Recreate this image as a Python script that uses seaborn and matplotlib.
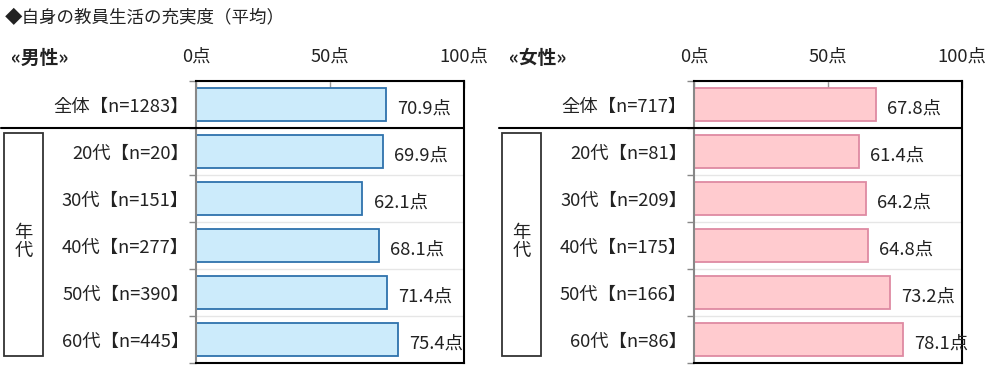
import matplotlib
matplotlib.use("Agg")
import matplotlib.pyplot as plt
import matplotlib.transforms as mtransforms
import seaborn as sns
import pandas as pd
import numpy as np
from matplotlib.patches import Rectangle

sns.set_theme(style="white")
plt.rcParams['font.family'] = ['Noto Sans CJK JP', 'DejaVu Sans']

title = "◆自身の教員生活の充実度（平均）"
x_ticks = [0, 50, 100]
x_tick_labels = ["0点", "50点", "100点"]

male_header = "«男性»"
male_labels = ["全体【n=1283】", "20代【n=20】", "30代【n=151】", "40代【n=277】", "50代【n=390】", "60代【n=445】"]
male_values = [70.9, 69.9, 62.1, 68.1, 71.4, 75.4]

female_header = "«女性»"
female_labels = ["全体【n=717】", "20代【n=81】", "30代【n=209】", "40代【n=175】", "50代【n=166】", "60代【n=86】"]
female_values = [67.8, 61.4, 64.2, 64.8, 73.2, 78.1]

group_label = "年\n代"

W, H = 1000, 374
fig = plt.figure(figsize=(W / 100, H / 100), dpi=100)
FS = 13.2


def px_axes(x0, y0, x1, y1):
    return fig.add_axes([x0 / W, 1 - y1 / H, (x1 - x0) / W, (y1 - y0) / H])


def draw_panel(offset, header, labels, values, fill, edge):
    ax = px_axes(196 + offset, 81, 464 + offset, 363)
    df = pd.DataFrame({"cat": labels, "val": values})
    sns.barplot(data=df, y="cat", x="val", orient="h", ax=ax, color=fill,
                saturation=1, width=0.72, edgecolor=edge, linewidth=1.3)
    ax.set_xlim(0, 100)
    ax.set_ylim(len(labels) - 0.5, -0.5)
    ax.set_xlabel("")
    ax.set_ylabel("")
    # top ticks
    ax.xaxis.tick_top()
    ax.set_xticks(x_ticks)
    ax.set_xticklabels(x_tick_labels, fontsize=FS, color="#222222")
    ax.tick_params(axis="x", which="major", direction="in", length=5,
                   width=1, color="#999999", pad=11, top=True, bottom=False)
    # y ticks: labels at centres, tick marks at boundaries
    ax.set_yticks(range(len(labels)))
    ax.set_yticklabels(labels, fontsize=FS, color="#222222")
    shift = mtransforms.ScaledTranslation(0, -1.5 / 72, fig.dpi_scale_trans)
    for t in ax.get_yticklabels():
        t.set_transform(t.get_transform() + shift)
    ax.set_yticks(np.arange(-0.5, len(labels), 1.0), minor=True)
    ax.tick_params(axis="y", which="major", length=0, pad=5)
    ax.tick_params(axis="y", which="minor", direction="out", length=5,
                   width=1, color="#888888", left=True)
    ax.grid(False)
    ax.yaxis.grid(True, which="minor", color="#e6e6e6", linewidth=1)
    for s in ["top", "right", "bottom"]:
        ax.spines[s].set_visible(True)
        ax.spines[s].set_color("black")
        ax.spines[s].set_linewidth(1.5)
    ax.spines["left"].set_color("#888888")
    ax.spines["left"].set_linewidth(1.5)
    for c in ax.containers:
        texts = ax.bar_label(c, labels=[f"{v}点" for v in values], padding=8,
                             fontsize=FS, color="#222222", clip_on=False)
        for t in texts:
            t.xyann = (t.xyann[0], -3)
    # separator between 全体 and age groups
    ax.axhline(0.5, xmin=-(196 - 1) / 268, xmax=1, color="black",
               linewidth=1.5, clip_on=False, zorder=5)
    # header
    fig.text((11 + offset) / W, 1 - 58 / H, header, fontsize=13.5,
             fontweight="bold", va="center", ha="left", color="#222222")
    # group box
    fig.patches.append(Rectangle(((4 + offset) / W, 1 - 356 / H), 39 / W, 223 / H,
                                 transform=fig.transFigure, fill=False,
                                 edgecolor="#333333", linewidth=1.3))
    fig.text((23.5 + offset) / W, 1 - 242 / H, group_label, fontsize=FS,
             va="center", ha="center", linespacing=1.0, color="#222222")
    return ax


draw_panel(0, male_header, male_labels, male_values, "#CCEBFB", "#2E72AC")
draw_panel(498, female_header, female_labels, female_values, "#FFCBCF", "#DE8AA2")

fig.text(5 / W, 1 - 18 / H, title, fontsize=12.6, va="center", ha="left", color="#222222")

fig.savefig("out.png", dpi=100)
